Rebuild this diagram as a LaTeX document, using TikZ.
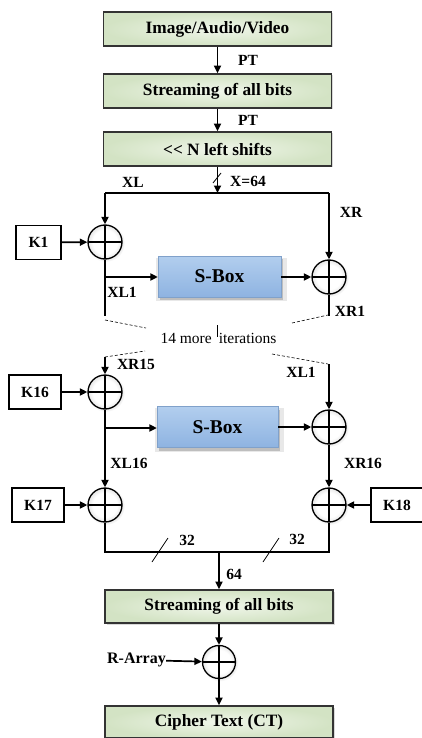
\documentclass[tikz,border=0pt]{standalone}
\usepackage{fontspec}
\setmainfont{Liberation Serif}
\usetikzlibrary{arrows.meta,shadows}
\definecolor{gin}{HTML}{F0F6EA}
\definecolor{gout}{HTML}{D3E3C4}
\definecolor{stop}{HTML}{B2CEEE}
\definecolor{sbot}{HTML}{8EB3E1}
\pgfdeclareradialshading{xorshade}{\pgfpoint{0bp}{0bp}}{color(0bp)=(white); color(18bp)=(white); color(36bp)=(black!25); color(50bp)=(black!65)}
\begin{document}
\begin{tikzpicture}[x=1pt,y=-1pt]
\tikzset{
  arr/.style={line width=1.7pt,-{Triangle[length=7.5pt,width=7pt]}},
  ln/.style={line width=1.7pt},
  slash/.style={line width=0.8pt},
  gbox/.style={draw=black!80,line width=1.6pt,inner color=gin,outer color=gout,
    minimum width=228pt,minimum height=34pt,inner sep=0pt,
    font=\bfseries\fontsize{17.3}{19}\selectfont,
    drop shadow={opacity=0.3,shadow xshift=1.5pt,shadow yshift=-1.5pt}},
  kbox/.style={draw=black,line width=1.1pt,fill=white,minimum height=34pt,
    inner sep=0pt,font=\bfseries\fontsize{15.5}{17}\selectfont},
  xorc/.style={circle,draw=black,line width=1.3pt,minimum size=34pt,inner sep=0pt,
    shading=xorshade,
    circular drop shadow={opacity=0.15,shadow xshift=0.8pt,shadow yshift=-0.8pt,shadow scale=1.12},
    path picture={\draw[line width=1.1pt] (path picture bounding box.north) -- (path picture bounding box.south)
      (path picture bounding box.west) -- (path picture bounding box.east);}},
  sbox/.style={top color=stop,bottom color=sbot,draw=sbot!90!black,line width=0.3pt,
    minimum height=41pt,inner sep=0pt,font=\bfseries\fontsize{19.5}{21}\selectfont,
    drop shadow={opacity=0.18,shadow xshift=2pt,shadow yshift=-3pt,shadow scale=1.06},
    drop shadow={opacity=0.4,shadow xshift=2pt,shadow yshift=-3pt}},
  lab/.style={inner sep=0pt,font=\bfseries\fontsize{15.5}{17}\selectfont},
  dsh/.style={dashed,line width=0.6pt,dash pattern=on 3pt off 2pt}
}
\useasboundingbox (0,0) rectangle (421,738);
% top chain
\node[gbox] (b1) at (217.5,29) {Image/Audio/Video};
\node[gbox] (b2) at (217.5,91) {Streaming of all bits};
\node[gbox] (b3) at (217.5,149) {{<}{<} N left shifts};
\draw[arr] (b1) -- (b2);
\draw[arr] (b2) -- (b3);
\node[lab] (pt1) at (248,60) {PT};
\node[lab] (pt2) at (248,120) {PT};
\coordinate (top) at (217.5,193);
\draw[arr] (b3) -- (top);
\coordinate (sa) at (213,183);
\coordinate (sb) at (221,173);
\draw[slash] (sa) -- (sb);
\node[lab] (xl) at (133,182) {XL};
\node[lab] (x64) at (248,181) {X=64};
\coordinate (tl) at (105,193);
\coordinate (tr) at (329,193);
% round 1
\node[xorc] (xa) at (105,242) {};
\node[xorc] (xb) at (329,277) {};
\node[kbox,minimum width=45pt] (k1) at (38.5,242.5) {K1};
\node[sbox,minimum width=123pt] (s1) at (219.5,276.5) {S-Box};
\draw[ln] (tl) -- (tr);
\draw[arr] (tl) -- (xa);
\draw[arr] (tr) -- (xb);
\draw[arr] (k1) -- (xa);
\coordinate (l1) at (105,316);
\coordinate (br1) at (105,277);
\coordinate (r1) at (329,316);
\draw[ln] (xa) -- (l1);
\draw[arr] (br1) -- (s1.west |- br1);
\draw[arr] (s1.east |- xb) -- (xb);
\draw[ln] (xb) -- (r1);
\node[lab] (xr) at (351,212) {XR};
\node[lab] (xl1a) at (122,292) {XL1};
\node[lab] (xr1) at (350,311) {XR1};
% iterations
\coordinate (d1) at (105,320);
\coordinate (d2) at (146,328);
\coordinate (d3) at (292,323);
\coordinate (d4) at (328,315);
\coordinate (d5) at (105,357);
\coordinate (d6) at (145,351);
\coordinate (d7) at (272,354);
\coordinate (d8) at (328,364);
\draw[dsh] (d1) -- (d2);
\draw[dsh] (d3) -- (d4);
\draw[dsh] (d5) -- (d6);
\draw[dsh] (d7) -- (d8);
\node[inner sep=0pt,font=\fontsize{15.5}{17}\selectfont] (it) at (218.5,338) {14 more\hspace{7pt}iterations};
\coordinate (tk1) at (217,325);
\coordinate (tk2) at (217,337);
\draw[line width=0.5pt] (tk1) -- (tk2);
% round 16
\node[xorc] (xc) at (105,392) {};
\node[xorc] (xd) at (329,427) {};
\node[kbox,minimum width=52pt] (k16) at (35,392) {K16};
\node[sbox,minimum width=121pt] (s2) at (217.5,427) {S-Box};
\draw[arr] (d5) -- (xc);
\draw[arr] (k16) -- (xc);
\coordinate (r2) at (329,364);
\draw[arr] (r2) -- (xd);
\coordinate (br2) at (105,428);
\draw[arr] (br2) -- (s2.west |- br2);
\draw[arr] (s2.east |- xd) -- (xd);
\node[lab] (xr15) at (136,364) {XR15};
\node[lab] (xl1b) at (301,372) {XL1};
% final keys
\node[xorc] (xe) at (105,505) {};
\node[xorc] (xf) at (329,505) {};
\node[kbox,minimum width=52pt] (k17) at (38,505) {K17};
\node[kbox,minimum width=52pt] (k18) at (397,505) {K18};
\draw[arr] (xc) -- (xe);
\draw[arr] (xd) -- (xf);
\draw[arr] (k17) -- (xe);
\draw[arr] (k18) -- (xf);
\node[lab] (xl16) at (129,463) {XL16};
\node[lab] (xr16) at (363,463) {XR16};
\coordinate (bl) at (105,552);
\coordinate (brr) at (329,552);
\coordinate (bm) at (219,552);
\draw[ln] (xe) -- (bl) -- (brr) -- (xf);
\coordinate (s3a) at (152,562);
\coordinate (s3b) at (168,538);
\coordinate (s4a) at (263,562);
\coordinate (s4b) at (279,538);
\draw[slash] (s3a) -- (s3b);
\draw[slash] (s4a) -- (s4b);
\node[lab] (n32a) at (187,540) {32};
\node[lab] (n32b) at (297,539) {32};
% output
\node[gbox,minimum height=33pt] (b4) at (219,606.5) {Streaming of all bits};
\draw[arr] (bm) -- (b4);
\node[lab] (n64) at (234,574) {64};
\node[xorc,minimum size=33pt] (xg) at (219,662) {};
\draw[arr] (b4) -- (xg);
\node[lab,font=\bfseries\fontsize{16}{18}\selectfont] (ra) at (136.5,660) {R-Array};
\draw[arr] (ra) -- (xg);
\node[gbox,minimum height=32pt] (b5) at (219,722) {Cipher Text (CT)};
\draw[arr] (xg) -- (b5);
\end{tikzpicture}
\end{document}
